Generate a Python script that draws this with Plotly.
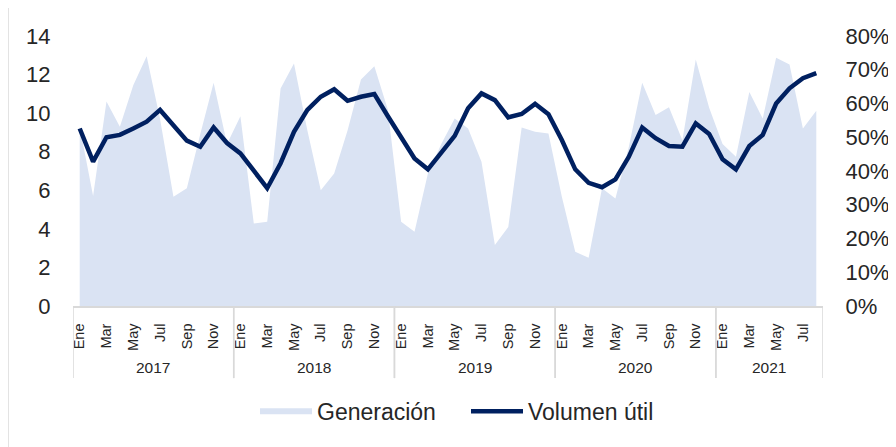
import plotly.graph_objects as go

years = ["2017", "2018", "2019", "2020", "2021"]
month_names = ["Ene", "Feb", "Mar", "Abr", "May", "Jun", "Jul", "Ago", "Sep", "Oct", "Nov", "Dic"]
n_months = [12, 12, 12, 12, 8]

generacion = [
    9.3, 5.7, 10.6, 9.3, 11.45, 12.95, 9.7, 5.66, 6.1, 8.9, 11.57, 8.4,
    9.84, 4.28, 4.37, 11.28, 12.57, 9.1, 6.0, 6.87, 9.1, 11.74, 12.43, 10.2,
    4.37, 3.85, 6.87, 8.4, 9.72, 9.2, 7.48, 3.16, 4.1, 9.26, 9.03, 8.95,
    5.66, 2.81, 2.5, 6.1, 5.58, 8.25, 11.57, 9.9, 10.3, 8.6, 12.78, 10.28,
    8.4, 7.74, 11.1, 9.72, 12.87, 12.52, 9.2, 10.12,
]
volumen = [
    52.6, 42.8, 50.0, 50.7, 52.6, 54.6, 58.1, 53.6, 49.0, 47.2, 52.9, 48.3,
    45.2, 40.1, 34.9, 42.3, 51.6, 58.1, 62.0, 64.2, 60.8, 62.0, 62.8, 56.3,
    50.3, 43.7, 40.5, 45.7, 50.4, 58.6, 63.0, 61.0, 55.9, 56.9, 59.9, 56.8,
    49.2, 40.5, 36.5, 35.2, 37.5, 44.2, 52.9, 49.7, 47.4, 47.2, 54.1, 51.0,
    43.5, 40.5, 47.4, 50.7, 60.0, 64.5, 67.5, 69.0,
]
volumen_frac = [v / 100 for v in volumen]

x = list(range(len(generacion)))
tickvals = []
ticktext = []
idx = 0
year_bounds = []
for y, n in zip(years, n_months):
    year_bounds.append((idx - 0.5, idx + n - 0.5))
    for m in range(n):
        if m % 2 == 0:
            tickvals.append(idx + m)
            ticktext.append(month_names[m])
    idx += n

FONT = "Liberation Sans, Arial, sans-serif"
TXT = "#262626"

fig = go.Figure()
fig.add_trace(go.Scatter(
    x=x, y=generacion, name="Generación", mode="none",
    fill="tozeroy", fillcolor="#dae3f3", yaxis="y", legend="legend",
))
fig.add_trace(go.Scatter(
    x=x, y=volumen_frac, name="Volumen útil", mode="lines",
    line=dict(color="#002060", width=4.5), yaxis="y2", legend="legend2",
))

shapes = []
for (a, b) in year_bounds:
    for xv in (a, b):
        shapes.append(dict(type="line", xref="x", yref="paper", x0=xv, x1=xv,
                           y0=0, y1=-0.267, line=dict(color="#d9d9d9", width=1.5)))
shapes.append(dict(type="rect", xref="paper", yref="paper",
                   x0=-0.0867, x1=1.2, y0=-0.6, y1=(306 - 7) / 270,
                   line=dict(color="#d9d9d9", width=1.5), fillcolor="rgba(0,0,0,0)", layer="below"))

annotations = []
for y, (a, b) in zip(years, year_bounds):
    annotations.append(dict(x=(a + b) / 2, y=-0.226, xref="x", yref="paper",
                            text=y, showarrow=False, font=dict(size=15.5, color=TXT, family=FONT),
                            xanchor="center", yanchor="middle"))

leg_common = dict(orientation="h", yanchor="middle", y=-0.39, xanchor="left",
                  font=dict(size=23, family=FONT, color=TXT), itemwidth=52,
                  bgcolor="rgba(0,0,0,0)")

fig.update_layout(
    width=896, height=447,
    margin=dict(l=65, r=81, t=28, b=149),
    paper_bgcolor="white", plot_bgcolor="white",
    font=dict(family=FONT, color=TXT),
    showlegend=True,
    legend=dict(x=(255 - 73) / 750, **leg_common),
    legend2=dict(x=(466 - 73) / 750, **leg_common),
    xaxis=dict(range=[-0.5, len(x) - 0.5], tickvals=tickvals, ticktext=ticktext,
               tickangle=-90, tickfont=dict(size=14.5, family=FONT, color=TXT),
               showgrid=False, zeroline=False, showline=True, linecolor="#d9d9d9", linewidth=1.5,
               ticks="outside", ticklen=10, tickcolor="rgba(0,0,0,0)"),
    yaxis=dict(range=[0, 14], dtick=2, showgrid=False, zeroline=False,
               tickfont=dict(size=22, family=FONT, color=TXT),
               ticks="outside", ticklen=17, tickcolor="rgba(0,0,0,0)"),
    yaxis2=dict(range=[0, 0.8], dtick=0.1, tickformat=".0%", overlaying="y", side="right",
                showgrid=False, zeroline=False,
                tickfont=dict(size=22, family=FONT, color=TXT),
                ticks="outside", ticklen=17, tickcolor="rgba(0,0,0,0)"),
    shapes=shapes,
    annotations=annotations,
)

fig.write_html("out.html")
